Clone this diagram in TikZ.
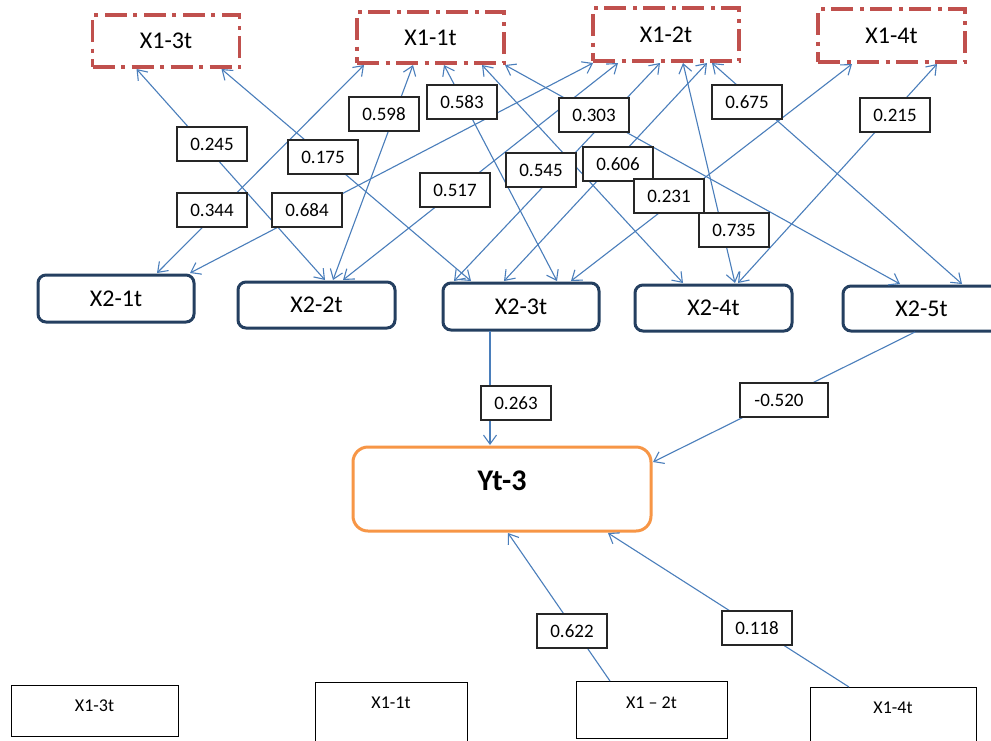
\documentclass[tikz,border=0pt]{standalone}
\usepackage{fontspec}
\setmainfont{Carlito}
\usetikzlibrary{arrows.meta,calc}
\definecolor{edgeblue}{RGB}{74,126,187}
\definecolor{dashred}{RGB}{192,80,77}
\definecolor{navyline}{RGB}{36,63,96}
\definecolor{orangeline}{RGB}{247,150,70}
\begin{document}
\begin{tikzpicture}[x=1pt,y=-1pt,
  topbox/.style={draw=dashred, line width=3.3pt, dash pattern=on 22pt off 6.5pt on 4pt off 6.5pt, fill=white, inner sep=0pt, outer sep=0pt, font=\fontsize{24}{28}\selectfont},
  midbox/.style={draw=navyline, line width=3pt, rounded corners=8pt, fill=white, inner sep=0pt, outer sep=0pt, font=\fontsize{24}{28}\selectfont},
  ybox/.style={draw=orangeline, line width=3pt, rounded corners=15pt, fill=white, inner sep=0pt, outer sep=0pt, font=\fontsize{30}{34}\selectfont\bfseries},
  botbox/.style={draw=black, line width=0.9pt, fill=white, inner sep=0pt, outer sep=0pt, font=\fontsize{18}{22}\selectfont},
  vallabel/.style={draw=black!85, line width=1.3pt, fill=white, inner sep=0pt, minimum width=70pt, minimum height=34pt, font=\fontsize{19}{22}\selectfont},
  conn/.style={draw=edgeblue, line width=1.1pt},
  >={Straight Barb[length=9pt,width=13pt]}
]
\fill[white] (0,0) rectangle (991,740);
\useasboundingbox (0,0) rectangle (991,740);
\clip (0,0) rectangle (991,740);

% top row
\node[topbox, minimum width=147pt, minimum height=52pt] (X13) at (166,41) {X1-3t};
\node[topbox, minimum width=147pt, minimum height=51pt] (X11) at (430.5,37.5) {X1-1t};
\node[topbox, minimum width=146pt, minimum height=53pt] (X12) at (666,34.5) {X1-2t};
\node[topbox, minimum width=147pt, minimum height=53pt] (X14) at (891.5,35.5) {X1-4t};

% middle row
\node[midbox, minimum width=156pt, minimum height=47pt] (X21) at (116,298.5) {X2-1t};
\node[midbox, minimum width=157pt, minimum height=46pt] (X22) at (316.5,305) {X2-2t};
\node[midbox, minimum width=156pt, minimum height=47pt] (X23) at (521,306.5) {X2-3t};
\node[midbox, minimum width=157pt, minimum height=46pt] (X24) at (713.5,308) {X2-4t};
\node[midbox, minimum width=157pt, minimum height=45pt] (X25) at (921.5,308.5) {X2-5t};

% outcome
\node[ybox, minimum width=298pt, minimum height=84pt, text height=43pt, text depth=41pt] (Yt) at (502,489) {Yt-3};

% bottom row
\node[botbox, minimum width=167pt, minimum height=51pt, text height=26pt, text depth=25pt] (B13) at (94.5,710.5) {X1-3t};
\node[botbox, minimum width=152pt, minimum height=63pt, text height=26pt, text depth=37pt] (B11) at (391,713.5) {X1-1t};
\node[botbox, minimum width=151pt, minimum height=57pt, text height=27pt, text depth=30pt] (B12) at (651.5,709.5) {X1 – 2t};
\node[botbox, minimum width=166pt, minimum height=58pt, text height=26pt, text depth=32pt] (B14) at (893,716) {X1-4t};

% correlations between rows
\draw[conn,<->] ($(X13.south west)+(44,2)$) -- ($(X22.north west)+(87,-2)$);
\draw[conn,<->] ($(X13.south west)+(129,2)$) -- ($(X23.north west)+(28,-2)$);
\draw[conn,<->] ($(X11.south west)+(7,2)$) -- ($(X21.north west)+(119,-2)$);
\draw[conn,<->] ($(X11.south west)+(56,2)$) -- ($(X22.north west)+(95,-2)$);
\draw[conn,<->] ($(X11.south west)+(87,2)$) -- ($(X23.north west)+(114,-2)$);
\draw[conn,<->] ($(X11.south west)+(125,2)$) -- ($(X24.north west)+(48,-2)$);
\draw[conn,<->] ($(X11.south west)+(148,2)$) -- ($(X25.north west)+(57,-2)$);
\draw[conn,<->] ($(X12.south west)+(0,2)$) -- ($(X21.north west)+(152,-2)$);
\draw[conn,<->] ($(X12.south west)+(25,2)$) -- ($(X22.north west)+(105,-2)$);
\draw[conn,<->] ($(X12.south west)+(67,2)$) -- ($(X23.north west)+(11,-2)$);
\draw[conn,<->] ($(X12.south west)+(90,2)$) -- ($(X24.north west)+(100,-2)$);
\draw[conn,<->] ($(X12.south west)+(114,2)$) -- ($(X23.north west)+(61,-2)$);
\draw[conn,<->] ($(X12.south west)+(119,2)$) -- ($(X25.north west)+(119,-2)$);
\draw[conn,<->] ($(X14.south west)+(34,2)$) -- ($(X23.north west)+(128,-2)$);
\draw[conn,<->] ($(X14.south west)+(119,2)$) -- ($(X24.north west)+(103,-2)$);

% paths to outcome
\draw[conn,->] ($(X23.south west)+(47,1)$) -- ($(Yt.north west)+(137,-2)$);
\draw[conn,->] ($(X25.south west)+(72,1)$) -- ($(Yt.north east)+(2,15)$);
\draw[conn,->] ($(B12.north west)+(34,0)$) -- ($(Yt.south west)+(155,2)$);
\draw[conn,->] ($(B14.north west)+(39,0)$) -- ($(Yt.south west)+(255,2)$);

% coefficient labels
\node[vallabel] (l1) at (212,144) {0.245};
\node[vallabel] (l2) at (323,157) {0.175};
\node[vallabel] (l3) at (212,210) {0.344};
\node[vallabel] (l4) at (384,114) {0.598};
\node[vallabel] (l5) at (462,102) {0.583};
\node[vallabel] (l7) at (594,115) {0.303};
\node[vallabel] (l8) at (307,210) {0.684};
\node[vallabel] (l9) at (455,190) {0.517};
\node[vallabel] (l10) at (541,170) {0.545};
\node[vallabel] (l12) at (618,164) {0.606};
\node[vallabel] (l14) at (669,196) {0.231};
\node[vallabel] (l11) at (734,230) {0.735};
\node[vallabel] (l13) at (747,102) {0.675};
\node[vallabel] (l15) at (895,115) {0.215};
\node[vallabel] (l16) at (516,403) {0.263};
\node[vallabel, minimum width=88pt] (l17) at (784,400) {-0.520\hspace*{10pt}};
\node[vallabel] (l18) at (572,631) {0.622};
\node[vallabel] (l19) at (757,628) {0.118};
\end{tikzpicture}
\end{document}
